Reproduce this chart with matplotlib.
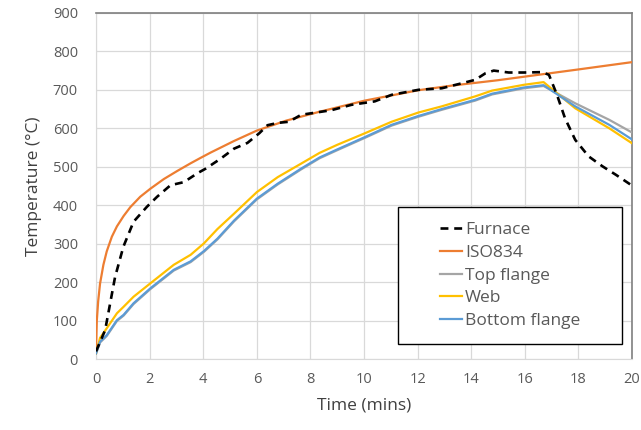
import matplotlib.pyplot as plt
from matplotlib.patches import Rectangle

# time (mins) and temperature (degC)
iso_t = [0, 0.03, 0.08, 0.15, 0.275, 0.4, 0.59, 0.78, 1.03, 1.28, 1.65, 2.03,
         2.53, 3.03, 3.53, 3.9, 4.28, 5.15, 6.0, 7.1, 8.34, 10.03, 12.03,
         13.28, 15.0, 16.5, 18.0, 20.0]
iso_temp = [20, 100, 150, 196, 245, 280, 318, 345, 372, 395, 422, 443,
            468, 489, 509, 523, 537, 567, 594, 620, 643, 672, 699,
            711, 725, 739, 753, 772]

furnace_t = [0, 0.34, 0.71, 1.02, 1.4, 1.9, 2.28, 2.78, 3.28, 3.78, 4.09, 4.65,
             5.15, 5.65, 6.09, 6.4, 6.78, 7.2, 7.65, 8.78, 9.53, 10.4, 11.03,
             12.03, 12.9, 13.65, 14.15, 14.53, 14.84, 15.4, 15.96, 16.65, 16.9,
             17.2, 17.5, 17.88, 18.38, 18.9, 19.4, 20.0]
furnace_temp = [20, 75, 213, 292, 357, 396, 422, 452, 460, 483, 495, 521,
                547, 562, 587, 608, 614, 617, 635, 647, 661, 670, 687,
                700, 704, 717, 726, 743, 750, 745, 745, 746, 739,
                687, 626, 570, 527, 501, 479, 451]

steel_t = [0, 0.15, 0.4, 0.78, 1.03, 1.4, 2.03, 2.9, 3.53, 4.03, 4.53, 5.15,
           6.0, 6.78, 7.65, 8.34, 9.0, 10.03, 11.03, 12.03, 12.9, 14.15, 14.78,
           15.96, 16.7, 17.88, 19.15, 20.0]
top_flange = [14, 43, 60, 99, 113, 143, 182, 230, 252, 279, 311, 358,
              415, 454, 493, 522, 543, 575, 607, 630, 648, 672, 688,
              704, 710, 665, 622, 589]
web = [15, 55, 80, 119, 136, 162, 197, 245, 271, 301, 338, 378,
       434, 473, 508, 536, 557, 587, 617, 641, 657, 683, 698,
       713, 720, 652, 600, 561]
bottom_flange = [15, 45, 62, 101, 115, 145, 184, 232, 254, 281, 313, 360,
                 417, 456, 495, 524, 545, 577, 609, 632, 650, 674, 690,
                 706, 712, 657, 609, 571]

x_ticks = list(range(0, 21, 2))
y_ticks = list(range(0, 901, 100))

plt.rcParams["font.family"] = ["Open Sans", "DejaVu Sans"]
TEXT = "#595959"

fig = plt.figure(figsize=(6.41, 4.30), dpi=100)
ax = fig.add_axes([0.1498, 0.165, 0.8362, 0.805])

ax.plot(furnace_t, furnace_temp, color="black", lw=1.9, dashes=(3, 2.2),
        label="Furnace", zorder=4)
ax.plot(iso_t, iso_temp, color="#ED7D31", lw=1.6, label="ISO834", zorder=3)
ax.plot(steel_t, top_flange, color="#A5A5A5", lw=1.6, label="Top flange", zorder=3)
ax.plot(steel_t, web, color="#FFC000", lw=1.6, label="Web", zorder=3)
ax.plot(steel_t, bottom_flange, color="#5B9BD5", lw=1.6, label="Bottom flange",
        zorder=3)

ax.set_xlim(0, 20)
ax.set_ylim(0, 900)
ax.set_xticks(x_ticks)
ax.set_yticks(y_ticks)
ax.grid(True, color="#D9D9D9", lw=0.9)
ax.set_axisbelow(True)
ax.tick_params(length=0, labelsize=10.5, labelcolor=TEXT)
ax.tick_params(axis="x", pad=9)
ax.tick_params(axis="y", pad=13)
for side in ("left", "bottom"):
    ax.spines[side].set_color("#D9D9D9")
for side in ("top", "right"):
    ax.spines[side].set_color("#7F7F7F")
    ax.spines[side].set_linewidth(1.2)

ax.set_xlabel("Time (mins)", fontsize=12.5, color="#404040", labelpad=8)
ax.set_ylabel("Temperature (°C)", fontsize=12.5, color="#404040", labelpad=8)

# legend box drawn separately so the entries sit inside a wider frame
box = Rectangle((0.563, 0.043), 0.418, 0.396, transform=ax.transAxes,
                facecolor="white", edgecolor="black", lw=1.0, zorder=5)
ax.add_patch(box)
leg = ax.legend(loc="center", bbox_to_anchor=(0.772, 0.241), frameon=False,
                fontsize=12.5, handlelength=1.3, handletextpad=0.15,
                labelspacing=0.38, borderpad=0)
leg.set_zorder(6)
for txt in leg.get_texts():
    txt.set_color(TEXT)

fig.savefig("out.png", dpi=100)
